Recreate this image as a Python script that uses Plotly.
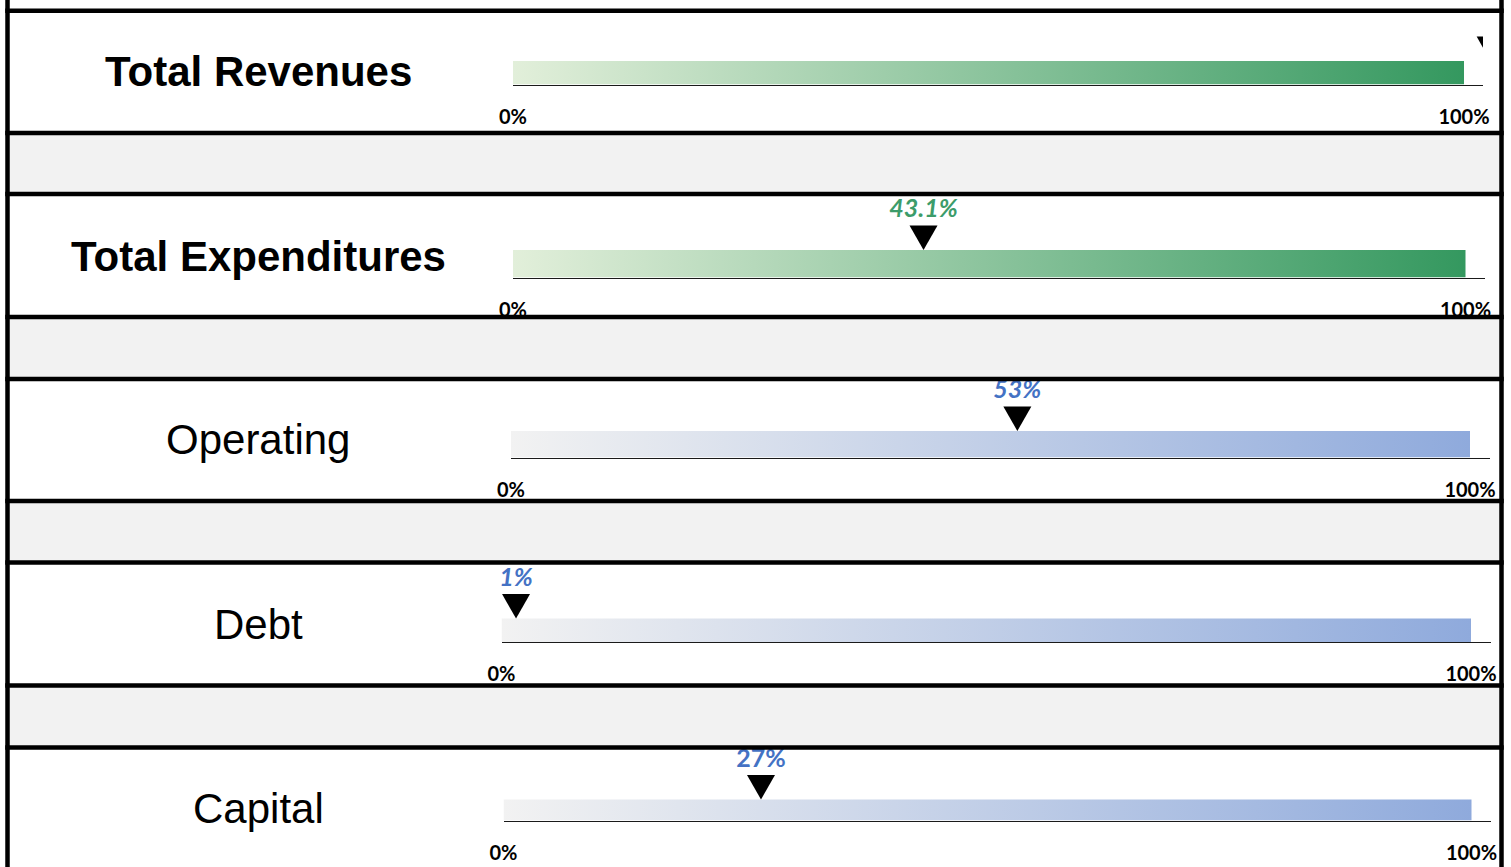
import plotly.graph_objects as go

W, H = 1511, 867

# ---------------- data ----------------
categories = ["Total Revenues", "Total Expenditures", "Operating", "Debt", "Capital"]
values = [102.8, 43.1, 52.8, 1.5, 26.6]          # marker position, % of target
value_labels = ["", "43.1%", "53%", "1%", "27%"]  # label shown above marker
scale_min = [0, 0, 0, 0, 0]
scale_max = [100, 100, 100, 100, 100]
tick_labels = ["0%", "100%"]

# ---------------- layout / style (pixels) ----------------
geo = [
    dict(x0=513.0, x1=1464.0, xend=1483.0, base=84.5, top=61.0, cy=72),
    dict(x0=513.0, x1=1465.5, xend=1485.0, base=277.5, top=250.0, cy=256),
    dict(x0=511.0, x1=1470.0, xend=1489.5, base=457.5, top=431.0, cy=440),
    dict(x0=501.5, x1=1471.0, xend=1490.5, base=642.0, top=618.5, cy=624),
    dict(x0=503.5, x1=1471.5, xend=1491.0, base=820.5, top=799.5, cy=808),
]
bold_rows = [True, True, False, False, False]
grad = [
    ("#e2efda", "#34985f"), ("#e2efda", "#34985f"),
    ("#f2f2f2", "#8faadc"), ("#f2f2f2", "#8faadc"), ("#f2f2f2", "#8faadc"),
]
label_colors = ["#3c9c6a", "#3c9c6a", "#4472c4", "#4472c4", "#4472c4"]
label_italic = [True, True, True, True, False]
TRI_H, TRI_HW, LABEL_GAP, D = 24.5, 14.0, 14.5, 70.0

sep_y = [10.8, 133.0, 194.0, 317.0, 379.0, 501.0, 562.5, 685.5, 747.5]
gray_rows = [(133.0, 194.0), (317.0, 379.0), (501.0, 562.5), (685.5, 747.5)]
LEFT_X, RIGHT_X, LW = 7.5, 1501.5, 4.5


def px(x):
    return x / W


def py(y):
    return 1 - y / H


fig = go.Figure()
layout = {}
annotations = []

for i in range(len(categories)):
    g = geo[i]
    n = "" if i == 0 else str(i + 1)
    xa, ya = "x" + n, "y" + n
    lo, hi = scale_min[i], scale_max[i]
    ppu = (g["x1"] - g["x0"]) / (hi - lo)
    xr = [lo, lo + (g["xend"] - g["x0"]) / ppu]
    bar_h = g["base"] - g["top"]
    c0, c1 = grad[i]

    # gradient scale bar (0% .. 100%)
    fig.add_trace(go.Scatter(
        x=[lo, hi, hi, lo, lo], y=[0, 0, bar_h, bar_h, 0],
        mode="lines", line=dict(width=0), fill="toself",
        fillgradient=dict(type="horizontal", colorscale=[[0, c0], [1, c1]]),
        xaxis=xa, yaxis=ya, hoverinfo="skip", showlegend=False,
    ))

    # triangle marker at the value
    v = values[i]
    hw = TRI_HW / ppu
    fig.add_trace(go.Scatter(
        x=[v - hw, v + hw, v, v - hw],
        y=[bar_h + TRI_H, bar_h + TRI_H, bar_h, bar_h + TRI_H],
        mode="lines", line=dict(width=0, color="black"), fill="toself",
        fillcolor="black", xaxis=xa, yaxis=ya, hoverinfo="skip", showlegend=False,
    ))

    if value_labels[i]:
        fig.add_trace(go.Scatter(
            x=[v], y=[bar_h + TRI_H + LABEL_GAP], mode="text",
            text=[value_labels[i]], textposition="middle center",
            textfont=dict(family="Lato", size=25, color=label_colors[i],
                          weight="bold",
                          style="italic" if label_italic[i] else "normal"),
            cliponaxis=False, xaxis=xa, yaxis=ya, hoverinfo="skip",
            showlegend=False,
        ))

    layout["xaxis" + n] = dict(
        domain=[px(g["x0"]), px(g["xend"])], range=xr, anchor=ya,
        showgrid=False, zeroline=False, showline=True, linecolor="#1a1a1a",
        linewidth=1, ticks="", tickvals=[lo, hi], ticktext=tick_labels,
        ticklabelstandoff=14, automargin=False,
        tickfont=dict(family="Lato", size=20, color="black", weight="bold"),
        fixedrange=True,
    )
    layout["yaxis" + n] = dict(
        domain=[py(g["base"]), py(g["base"] - D)], range=[0, D], anchor=xa,
        visible=False, fixedrange=True, automargin=False,
    )

    annotations.append(dict(
        x=px(258), y=py(g["cy"]), xref="paper", yref="paper",
        text=("<b>%s</b>" % categories[i]) if bold_rows[i] else categories[i],
        showarrow=False, xanchor="center", yanchor="middle",
        font=dict(family="Liberation Sans, Arial", size=42, color="black"),
    ))

shapes = []
for (a, b) in gray_rows:
    shapes.append(dict(type="rect", xref="paper", yref="paper",
                       x0=px(LEFT_X), x1=px(RIGHT_X), y0=py(b), y1=py(a),
                       fillcolor="#f2f2f2", line=dict(width=0), layer="below"))
for y in sep_y:
    shapes.append(dict(type="line", xref="paper", yref="paper",
                       x0=px(LEFT_X - LW / 2), x1=px(RIGHT_X + LW / 2),
                       y0=py(y), y1=py(y),
                       line=dict(color="black", width=LW), layer="above"))
for x in (LEFT_X, RIGHT_X):
    shapes.append(dict(type="line", xref="paper", yref="paper",
                       x0=px(x), x1=px(x), y0=0, y1=1,
                       line=dict(color="black", width=LW), layer="above"))

fig.update_layout(
    template="none",
    width=W, height=H,
    margin=dict(l=0, r=0, t=0, b=0, pad=0, autoexpand=False),
    paper_bgcolor="white", plot_bgcolor="rgba(0,0,0,0)",
    showlegend=False, shapes=shapes, annotations=annotations, **layout,
)

fig.write_html(
    "out.html", config={"displayModeBar": False},
    post_script="document.body.style.margin='0';document.body.style.overflow='hidden';",
)
